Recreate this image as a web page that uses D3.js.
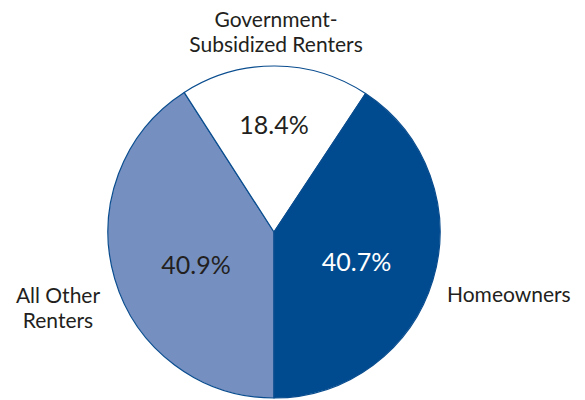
<!DOCTYPE html>
<html>
<head>
<meta charset="utf-8">
<script src="https://cdn.jsdelivr.net/npm/d3@7"></script>
<style>
  html, body { margin: 0; padding: 0; background: #fff; }
  svg { display: block; }
  text { font-family: Lato, "Open Sans", sans-serif; fill: #231f20; }
</style>
</head>
<body>
<svg id="chart" width="585" height="400"></svg>
<script>
// Share of households by tenure (percent)
const categories = ["All Other Renters", "Government-Subsidized Renters", "Homeowners"];
const shares = [40.9, 18.4, 40.7];
const fills = ["#7590c0", "#ffffff", "#004b8f"];
const valueColors = ["#231f20", "#231f20", "#ffffff"];

const width = 585, height = 400;
const cx = 274, cy = 232, radius = 166;

const svg = d3.select("#chart");
const g = svg.append("g").attr("transform", `translate(${cx},${cy})`);

// Slices run clockwise starting from the bottom of the circle
const pie = d3.pie()
  .sort(null)
  .startAngle(Math.PI)
  .endAngle(3 * Math.PI)
  .value(d => d.value);

const data = categories.map((c, i) => ({ name: c, value: shares[i], fill: fills[i], vc: valueColors[i] }));
const arcs = pie(data);

const arc = d3.arc().innerRadius(0).outerRadius(radius);

g.selectAll("path.slice")
  .data(arcs)
  .join("path")
  .attr("class", "slice")
  .attr("d", arc)
  .attr("fill", d => d.data.fill)
  .attr("stroke", "#0a4d8f")
  .attr("stroke-width", 1.2)
  .attr("stroke-linejoin", "round");

// Percentage label anchors, as fractions of the radius from the centre
const valueAnchors = [
  [-0.47, 0.195],  // All Other Renters
  [0.0, -0.65],    // Government-Subsidized
  [0.497, 0.175]   // Homeowners
];
g.selectAll("text.value")
  .data(arcs)
  .join("text")
  .attr("class", "value")
  .attr("text-anchor", "middle")
  .attr("dominant-baseline", "central")
  .attr("font-size", 25)
  .style("fill", d => d.data.vc)
  .attr("x", (d, i) => valueAnchors[i][0] * radius)
  .attr("y", (d, i) => valueAnchors[i][1] * radius)
  .text(d => d3.format(".1f")(d.data.value) + "%");

// Category labels outside the circle
const outerLabels = [
  { lines: ["All Other", "Renters"], x: 58, y: 303, anchor: "middle" },
  { lines: ["Government-", "Subsidized Renters"], x: 276, y: 27, anchor: "middle" },
  { lines: ["Homeowners"], x: 447, y: 302, anchor: "start" }
];
outerLabels.forEach(l => {
  const t = svg.append("text")
    .attr("class", "cat")
    .attr("text-anchor", l.anchor)
    .attr("font-size", 21)
    .attr("x", l.x)
    .attr("y", l.y);
  l.lines.forEach((line, i) => {
    t.append("tspan").attr("x", l.x).attr("dy", i === 0 ? 0 : 24.5).text(line);
  });
});
</script>
</body>
</html>
